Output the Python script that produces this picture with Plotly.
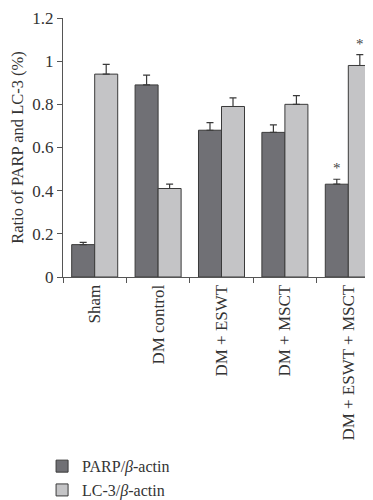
import plotly.graph_objects as go

categories = ["Sham", "DM control", "DM + ESWT", "DM + MSCT", "DM + ESWT + MSCT"]
parp = [0.15, 0.89, 0.68, 0.67, 0.43]
parp_err = [0.01, 0.045, 0.035, 0.035, 0.023]
lc3 = [0.94, 0.41, 0.79, 0.80, 0.98]
lc3_err = [0.045, 0.02, 0.04, 0.04, 0.05]
parp_star = [False, False, False, False, True]
lc3_star = [False, False, False, False, True]
yticks = [0, 0.2, 0.4, 0.6, 0.8, 1.0, 1.2]

FONT = "Liberation Serif"
EDGE = "#3a3a3a"

fig = go.Figure()
fig.add_trace(go.Bar(
    x=categories, y=parp, name="PARP/<i>β</i>-actin",
    marker=dict(color="#707075", line=dict(color=EDGE, width=1)),
    error_y=dict(type="data", array=parp_err, arrayminus=[0]*len(parp), symmetric=False,
                 color=EDGE, thickness=1.2, width=3.5),
))
fig.add_trace(go.Bar(
    x=categories, y=lc3, name="LC-3/<i>β</i>-actin",
    marker=dict(color="#c4c4c6", line=dict(color=EDGE, width=1)),
    error_y=dict(type="data", array=lc3_err, arrayminus=[0]*len(lc3), symmetric=False,
                 color=EDGE, thickness=1.2, width=3.5),
))

for i, c in enumerate(categories):
    if parp_star[i]:
        fig.add_annotation(x=c, y=parp[i] + parp_err[i], xshift=-11.5, yshift=1,
                           text="*", showarrow=False, yanchor="bottom",
                           font=dict(family=FONT, size=15, color="#444"))
    if lc3_star[i]:
        fig.add_annotation(x=c, y=lc3[i] + lc3_err[i], xshift=11.5, yshift=1,
                           text="*", showarrow=False, yanchor="bottom",
                           font=dict(family=FONT, size=15, color="#444"))

fig.update_layout(
    width=373, height=500,
    margin=dict(l=55, r=1, t=10, b=224),
    paper_bgcolor="white", plot_bgcolor="white",
    barmode="group", bargap=0.274, bargroupgap=0,
    font=dict(family=FONT, size=16, color="#333"),
    showlegend=True,
    legend=dict(x=-0.066, y=-0.665, xanchor="left", yanchor="top",
                font=dict(family=FONT, size=16, color="#333"),
                tracegroupgap=0, bgcolor="rgba(0,0,0,0)"),
    xaxis=dict(
        type="category", range=[-0.5, 4.5], tickangle=-90,
        showline=True, linecolor="#555", linewidth=1,
        ticks="outside", tickson="boundaries", ticklen=5, tickcolor="#555",
        tickfont=dict(family=FONT, size=17, color="#333"),
        showgrid=False, zeroline=False,
    ),
    yaxis=dict(
        range=[0, 1.2], tickvals=yticks, ticktext=["0", "0.2", "0.4", "0.6", "0.8", "1", "1.2"],
        showline=True, linecolor="#555", linewidth=1,
        ticks="outside", ticklen=5, tickcolor="#555",
        tickfont=dict(family=FONT, size=17, color="#333"),
        title=dict(text="Ratio of PARP and LC-3 (%)", font=dict(family=FONT, size=16.5, color="#333"),
                   standoff=7),
        showgrid=False, zeroline=False,
    ),
)

fig.write_html("out.html")
